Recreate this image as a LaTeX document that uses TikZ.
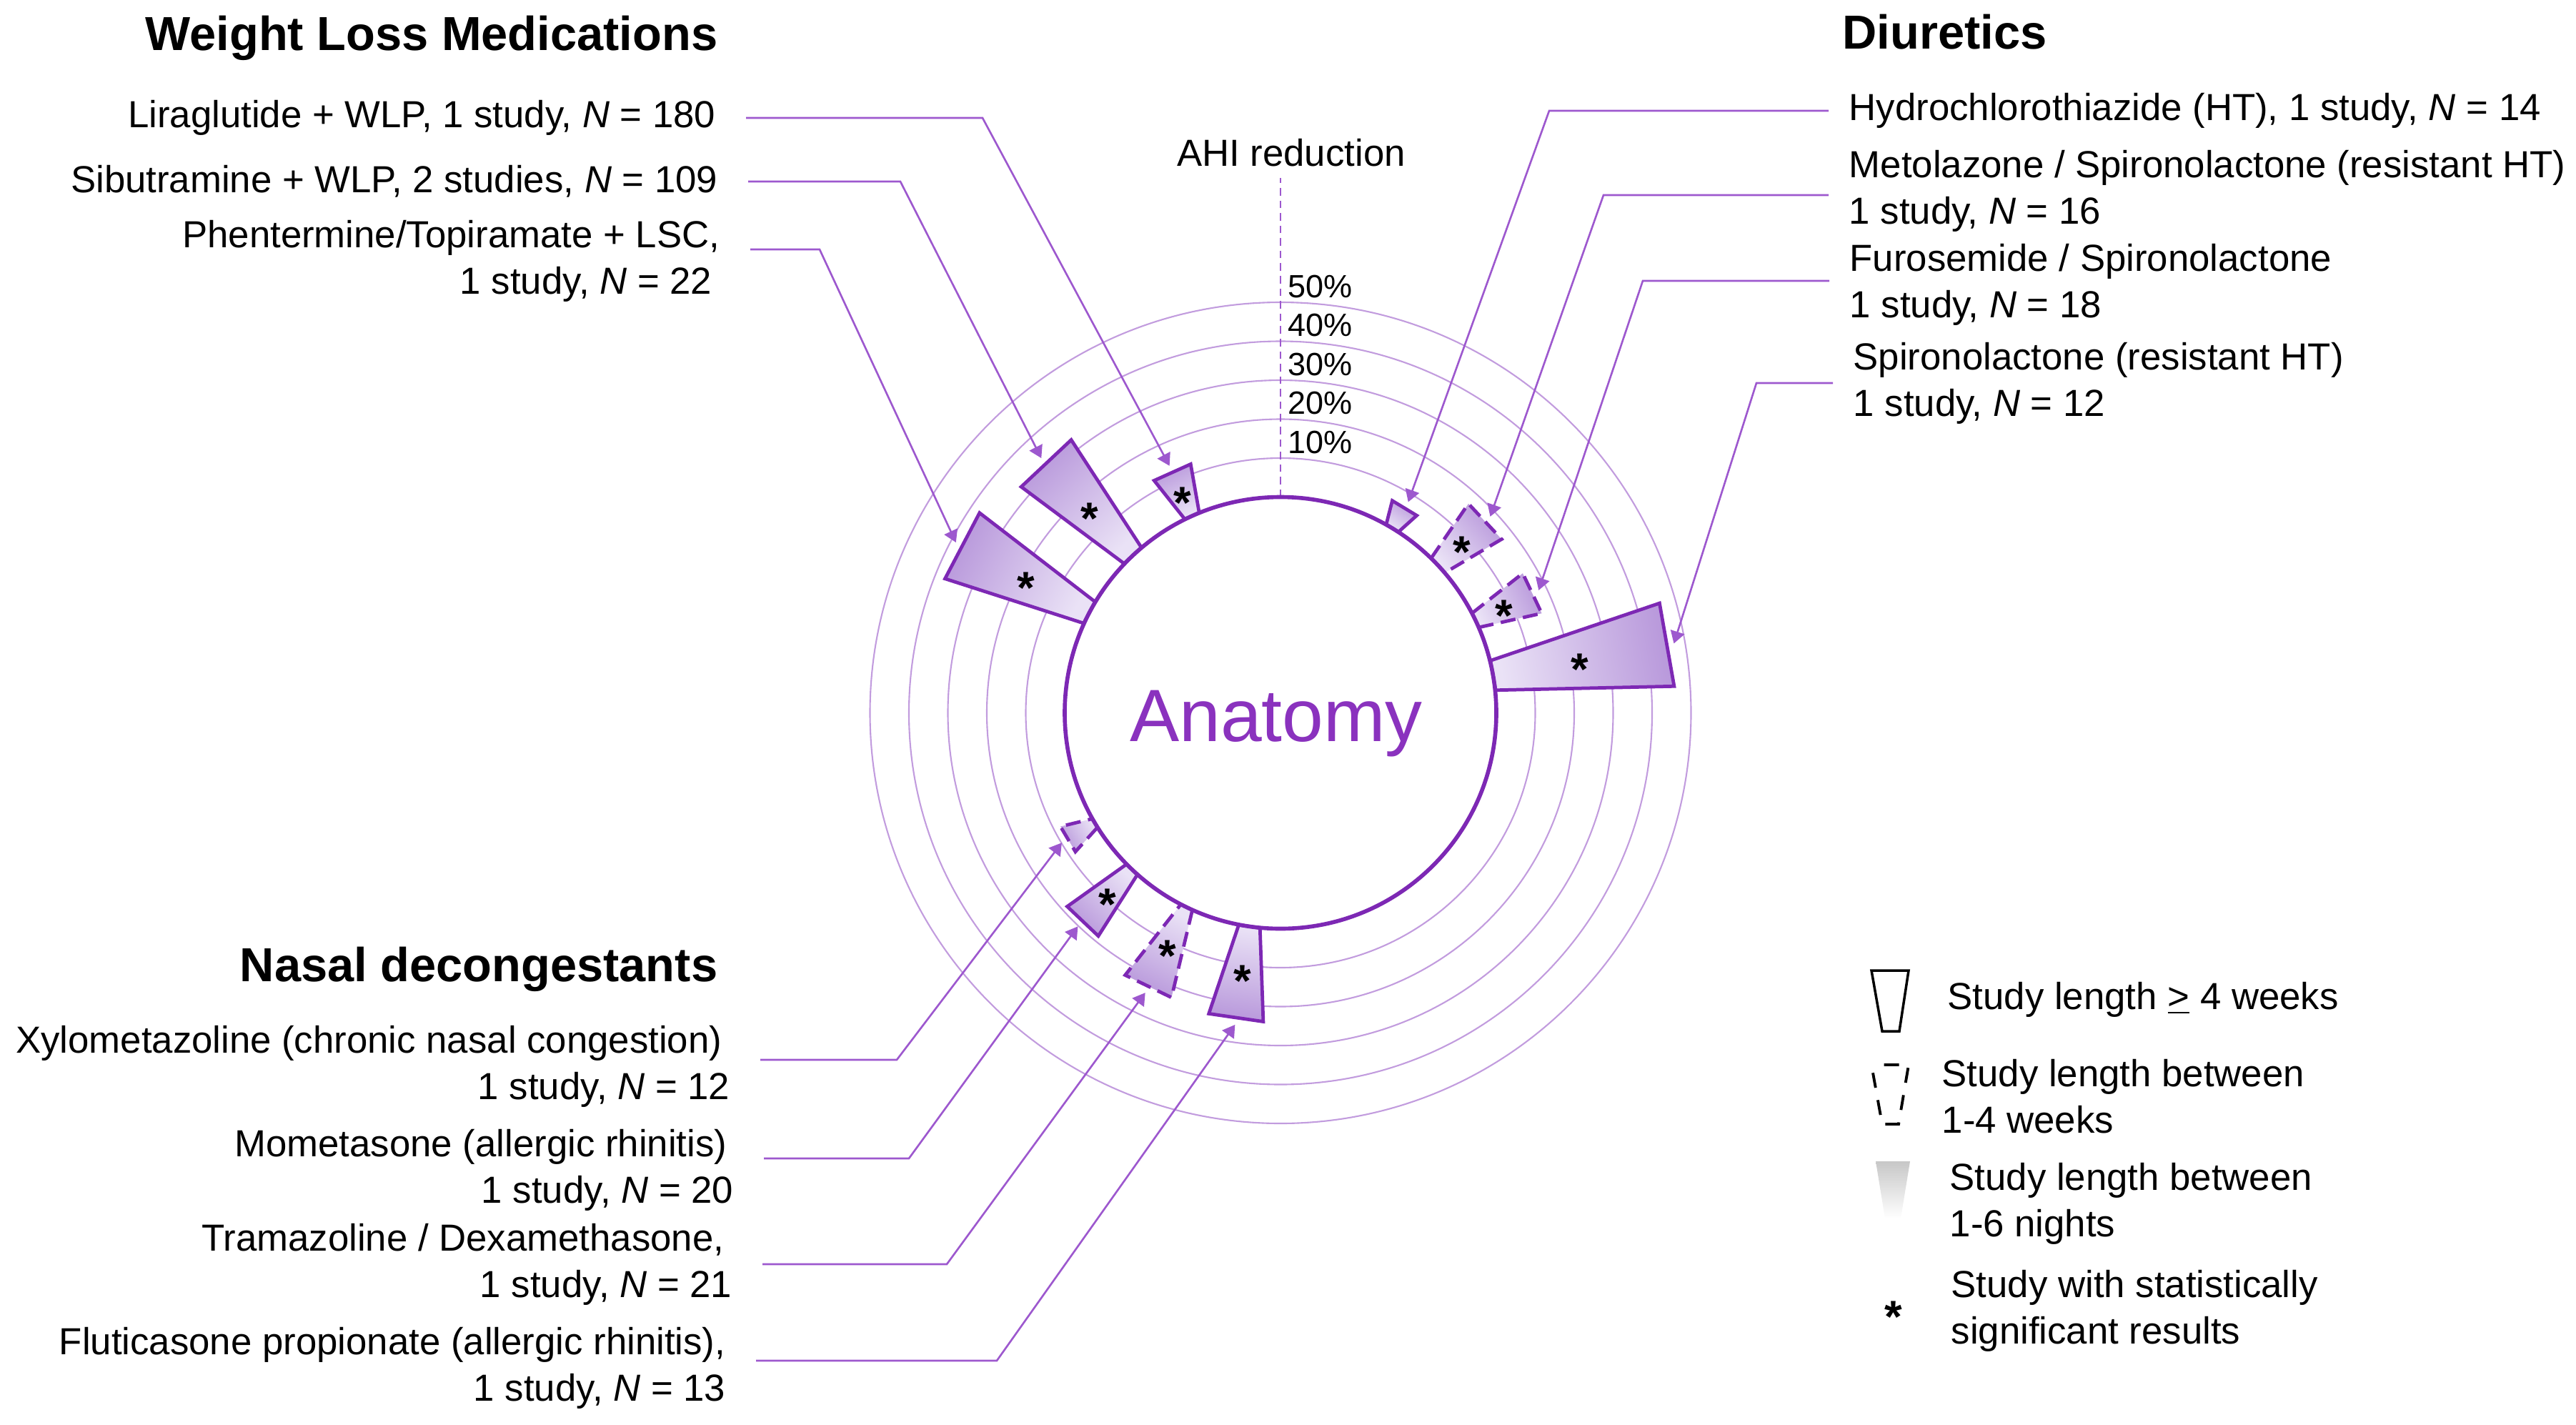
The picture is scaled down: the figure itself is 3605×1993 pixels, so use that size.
\documentclass[tikz,border=0pt]{standalone}
\usepackage{fontspec}
\setmainfont{Liberation Sans}
\usetikzlibrary{arrows.meta,calc}

\definecolor{anatpurple}{RGB}{138,50,190}
\definecolor{barline}{RGB}{125,40,180}
\definecolor{ringline}{RGB}{194,156,222}
\definecolor{linkline}{RGB}{157,88,206}
\definecolor{barlight}{RGB}{234,226,246}
\definecolor{bardark}{RGB}{184,152,219}

\tikzset{%
  >={Triangle[width=2mm,length=1.7mm]},
  % Specifications for style of nodes:
       leftlabel/.style = {anchor=east, align=right, inner xsep=0.42cm, inner ysep=0pt,
                           font=\fontsize{15}{18.4}\selectfont},
      rightlabel/.style = {anchor=west, align=left, inner xsep=0.28cm, inner ysep=0pt,
                           font=\fontsize{15}{18.4}\selectfont},
           group/.style = {inner sep=0pt, font=\fontsize{19}{22}\selectfont\bfseries},
             pct/.style = {anchor=base west, inner sep=0pt, font=\fontsize{12.8}{14}\selectfont},
             sig/.style = {inner sep=0pt, yshift=-3.6pt, font=\fontsize{18}{18}\selectfont\bfseries},
          legtxt/.style = {anchor=west, align=left, inner sep=0pt,
                           font=\fontsize{15}{18.4}\selectfont},
  % Specifications for style of lines:
            ring/.style = {draw=ringline, line width=0.6pt},
            link/.style = {draw=linkline, line width=0.75pt},
        barsolid/.style = {draw=barline, line width=1.35pt, line join=miter,
                           top color=bardark, bottom color=barlight},
       bardashed/.style = {barsolid, dash pattern=on 6pt off 3pt},
}

% bar of one study: name, angle, length, inner half width, outer half width, style
\newcommand{\drugbar}[6]{%
  \pgfmathsetmacro{\shadeangle}{#2-90}
  \begin{scope}[shift={(ctr)}, rotate=#2]
    \path[#6, shading angle=\shadeangle] (302,-#4) -- ({302+#3},-#5) -- ({302+#3},#5) -- (302,#4) -- cycle;
    \coordinate (#1) at ({302+#3/2},0);
    \coordinate (#1-tip) at ({302+#3+10},0);
  \end{scope}}

\begin{document}
\begin{tikzpicture}[x=0.01cm, y=-0.01cm]
  \useasboundingbox (0,0) rectangle (3605,1993);
  \coordinate (ctr) at (1792,997.5);

  % rings of AHI reduction
  \foreach \lvl in {1,...,5} {
    \draw[ring] (ctr) circle ({302+54.5*\lvl});
    \node (pct\lvl) [pct] at ($(ctr)+(10,{-309-54.5*\lvl})$) {\lvl0\%};
  }
  \draw[color=linkline, line width=0.6pt, dash pattern=on 3pt off 2pt] (ctr) ++(0,-302) -- ++(0,-447);
  \node (ahi) [anchor=base, inner sep=0pt, font=\fontsize{15}{18}\selectfont] at (1807,232) {AHI reduction};

  % labels, left side
  \node (wlm) [group, anchor=base east] at (1005,70) {Weight Loss Medications};
  \node (lira-l) [leftlabel] at (1044,165) {Liraglutide + WLP, 1 study, \textit{N} = 180};
  \node (sibu-l) [leftlabel] at (1047,254) {Sibutramine + WLP, 2 studies, \textit{N} = 109};
  \node (phen-l) [leftlabel] at (1050,365) {Phentermine/Topiramate + LSC,\\1 study, \textit{N} = 22\hspace*{0.11cm}};

  \node (nasal) [group, anchor=base east] at (1005,1373) {Nasal decongestants};
  \node (xylo-l) [leftlabel] at (1064,1492) {Xylometazoline (chronic nasal congestion)\hspace*{0.11cm}\\1 study, \textit{N} = 12};
  \node (mome-l) [leftlabel] at (1069,1637) {Mometasone (allergic rhinitis)\hspace*{0.09cm}\\1 study, \textit{N} = 20};
  \node (tram-l) [leftlabel] at (1067,1769) {Tramazoline / Dexamethasone,\hspace*{0.11cm}\\1 study, \textit{N} = 21};
  \node (flut-l) [leftlabel] at (1058,1914) {Fluticasone propionate (allergic rhinitis),\\1 study, \textit{N} = 13};

  % labels, right side
  \node (diur) [group, anchor=base west] at (2578,68) {Diuretics};
  \node (hctz-l) [rightlabel] at (2559,155) {Hydrochlorothiazide (HT), 1 study, \textit{N} = 14};
  \node (meto-l) [rightlabel] at (2559,267) {Metolazone / Spironolactone (resistant HT)\\1 study, \textit{N} = 16};
  \node (furo-l) [rightlabel] at (2560,398) {Furosemide / Spironolactone\\1 study, \textit{N} = 18};
  \node (spiro-l) [rightlabel] at (2565,536) {Spironolactone (resistant HT)\\1 study, \textit{N} = 12};

  % bars
  \drugbar{phen}{152.3}{201}{17}{52}{barsolid}
  \drugbar{sibu}{133.2}{177}{16.5}{48}{barsolid}
  \drugbar{lira}{114.2}{67}{11}{28}{barsolid}
  \drugbar{hctz}{58.8}{33}{10}{20}{barsolid}
  \drugbar{meto}{43.1}{90}{14}{34}{bardashed}
  \drugbar{furo}{25.4}{88}{11}{31}{bardashed}
  \drugbar{spiro}{10}{247}{21}{59}{barsolid}
  \drugbar{xylo}{210.7}{44}{7}{20.5}{bardashed}
  \drugbar{mome}{226.5}{100}{10.5}{30}{barsolid}
  \drugbar{tram}{244.2}{123}{9}{36}{bardashed}
  \drugbar{flut}{261.7}{129}{15}{38.5}{barsolid}

  % connectors
  \draw[link, ->] (lira-l.east) -- ++(331,0) -- (lira-tip);
  \draw[link, ->] (sibu-l.east) -- ++(213,0) -- (sibu-tip);
  \draw[link, ->] ([yshift=0.16cm]phen-l.east) -- ++(97,0) -- (phen-tip);
  \draw[link, ->] ([yshift=0.09cm]xylo-l.east) -- ++(191,0) -- (xylo-tip);
  \draw[link, ->] ([yshift=0.16cm]mome-l.east) -- ++(203,0) -- (mome-tip);
  \draw[link, ->] (tram-l.east) -- ++(258,0) -- (tram-tip);
  \draw[link, ->] ([yshift=0.1cm]flut-l.east) -- ++(337,0) -- (flut-tip);
  \draw[link, ->] (hctz-l.west) -- ++(-391,0) -- (hctz-tip);
  \draw[link, ->] ([yshift=-0.06cm]meto-l.west) -- ++(-315,0) -- (meto-tip);
  \draw[link, ->] ([yshift=0.05cm]furo-l.west) -- ++(-261,0) -- (furo-tip);
  \draw[link, ->] (spiro-l.west) -- ++(-107,0) -- (spiro-tip);

  % centre
  \draw[color=barline, line width=1.6pt] (ctr) circle (302);
  \node (anat) [anchor=base, inner sep=0pt, text=anatpurple, font=\fontsize{29.5}{30}\selectfont] at (1786,1037) {Anatomy};
  \foreach \drug in {phen,sibu,lira,meto,furo,spiro,mome,tram,flut}
    \node (\drug-sig) [sig] at (\drug) {*};

  % legend
  \draw[line width=1pt, line join=miter] (2619,1358) -- (2671,1358) -- (2658,1443) -- (2634,1443) -- cycle;
  \node (leg1) [legtxt, anchor=base west] at (2725,1412) {Study length \underline{>} 4 weeks};
  \draw[line width=1.1pt, dash pattern=on 6pt off 5pt, dash phase=6pt] (2619,1490) -- (2671,1490) -- (2657,1573) -- (2634,1573) -- cycle;
  \node (leg2) [legtxt] at (2717,1534) {Study length between\\1-4 weeks};
  \shade[top color=black!22, bottom color=white] (2625,1625) -- (2673,1625) -- (2660,1705) -- (2638,1705) -- cycle;
  \node (leg3) [legtxt] at (2728,1684) {Study length between\\1-6 nights};
  \node (leg4-sig) [sig] at (2650,1830) {*};
  \node (leg4) [legtxt] at (2730,1834) {Study with statistically\\significant results};
\end{tikzpicture}
\end{document}
